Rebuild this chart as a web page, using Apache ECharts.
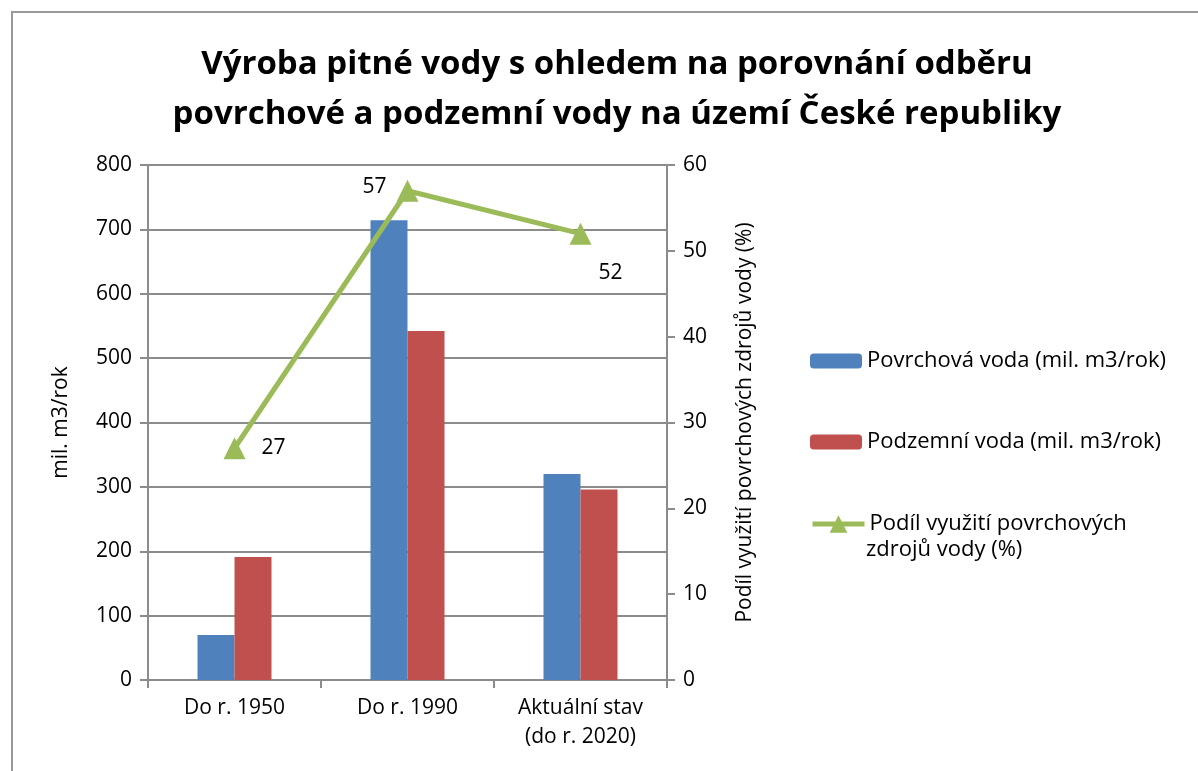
<!DOCTYPE html>
<html>
<head>
<meta charset="utf-8">
<script src="https://cdn.jsdelivr.net/npm/echarts@6/dist/echarts.min.js"></script>
<style>
  html, body { margin: 0; padding: 0; background: #fff; }
  #main { width: 1198px; height: 771px; }
</style>
</head>
<body>
<div id="main"></div>
<script>
var categories = ['Do r. 1950', 'Do r. 1990', 'Aktuální stav\n(do r. 2020)'];
var povrchova = [70, 714, 320];
var podzemni = [191, 542, 296];
var podil = [27, 57, 52];
var seriesNames = ['Povrchová voda (mil. m3/rok)', 'Podzemní voda (mil. m3/rok)', 'Podíl využití povrchových zdrojů vody (%)'];

var font = '"Open Sans", "Noto Sans", sans-serif';
var gridColor = '#8c8c8c';
var fs = 21;

function legendFor(item, top, h) {
    return {
        data: [item],
        orient: 'vertical',
        left: 805,
        top: top,
        itemWidth: 52,
        itemHeight: h,
        itemGap: 0,
        textStyle: { fontFamily: font, fontSize: 22, color: '#000' },
        formatter: function (n) {
            return n.indexOf('Podíl') === 0 ? 'Podíl využití povrchových' : n;
        }
    };
}

var option = {
    backgroundColor: '#fff',
    textStyle: { fontFamily: font },
    title: {
        text: 'Výroba pitné vody s ohledem na porovnání odběru\npovrchové a podzemní vody na území České republiky',
        left: 612,
        textAlign: 'center',
        top: 35,
        textStyle: {
            fontFamily: font,
            fontSize: 33,
            fontWeight: 'bold',
            color: '#000',
            lineHeight: 50
        }
    },
    graphic: [{
        type: 'rect',
        shape: { x: 12, y: 12, width: 1200, height: 800 },
        style: { fill: 'none', stroke: '#999', lineWidth: 2 },
        silent: true
    }, {
        type: 'text',
        left: 866,
        top: 539,
        style: { text: 'zdrojů vody (%)', fontFamily: font, fontSize: 22, fill: '#000' },
        silent: true
    }],
    legend: [
        legendFor(seriesNames[0], 345, 15),
        legendFor(seriesNames[1], 426, 15),
        legendFor({ name: seriesNames[2], lineStyle: { width: 5 } }, 508, 22)
    ],
    grid: { left: 148, right: 531, top: 165, bottom: 91 },
    xAxis: {
        type: 'category',
        data: categories,
        axisLine: { lineStyle: { color: gridColor, width: 2 } },
        axisTick: { show: true, length: 8, lineStyle: { color: gridColor, width: 2 } },
        axisLabel: { color: '#000', fontSize: fs, lineHeight: 29, margin: 14, fontFamily: font }
    },
    yAxis: [{
        type: 'value',
        min: 0, max: 800, interval: 100,
        name: 'mil. m3/rok',
        nameLocation: 'middle',
        nameGap: 76,
        nameTextStyle: { color: '#000', fontSize: fs, fontFamily: font },
        axisLine: { show: true, lineStyle: { color: gridColor, width: 2 } },
        axisTick: { show: true, length: 8, lineStyle: { color: gridColor, width: 2 } },
        axisLabel: { color: '#000', fontSize: fs, margin: 16, fontFamily: font },
        splitLine: { lineStyle: { color: gridColor, width: 2 } }
    }, {
        type: 'value',
        min: 0, max: 60, interval: 10,
        name: 'Podíl využití povrchových zdrojů vody (%)',
        nameLocation: 'middle',
        nameGap: 68,
        nameTextStyle: { color: '#000', fontSize: fs, fontFamily: font },
        axisLine: { show: true, lineStyle: { color: gridColor, width: 2 } },
        axisTick: { show: true, length: 8, lineStyle: { color: gridColor, width: 2 } },
        axisLabel: { color: '#000', fontSize: fs, margin: 16, fontFamily: font },
        splitLine: { show: false }
    }],
    series: [{
        name: seriesNames[0],
        type: 'bar',
        data: povrchova,
        barWidth: 37,
        barGap: '0%',
        itemStyle: { color: '#4F81BD' }
    }, {
        name: seriesNames[1],
        type: 'bar',
        data: podzemni,
        barWidth: 37,
        barGap: '0%',
        itemStyle: { color: '#C0504D' }
    }, {
        name: seriesNames[2],
        type: 'line',
        yAxisIndex: 1,
        data: [
            { value: podil[0], label: { position: 'right', offset: [2, 0] } },
            { value: podil[1], label: { position: 'left', offset: [4, -4] } },
            { value: podil[2], label: { position: 'bottom', offset: [30, 4] } }
        ],
        symbol: 'triangle',
        symbolSize: 22,
        lineStyle: { color: '#9BBB59', width: 5 },
        itemStyle: { color: '#9BBB59' },
        label: {
            show: true,
            color: '#000',
            fontSize: fs,
            fontFamily: font,
            distance: 14
        }
    }]
};

var chart = echarts.init(document.getElementById('main'));
chart.setOption(option);
</script>
</body>
</html>
